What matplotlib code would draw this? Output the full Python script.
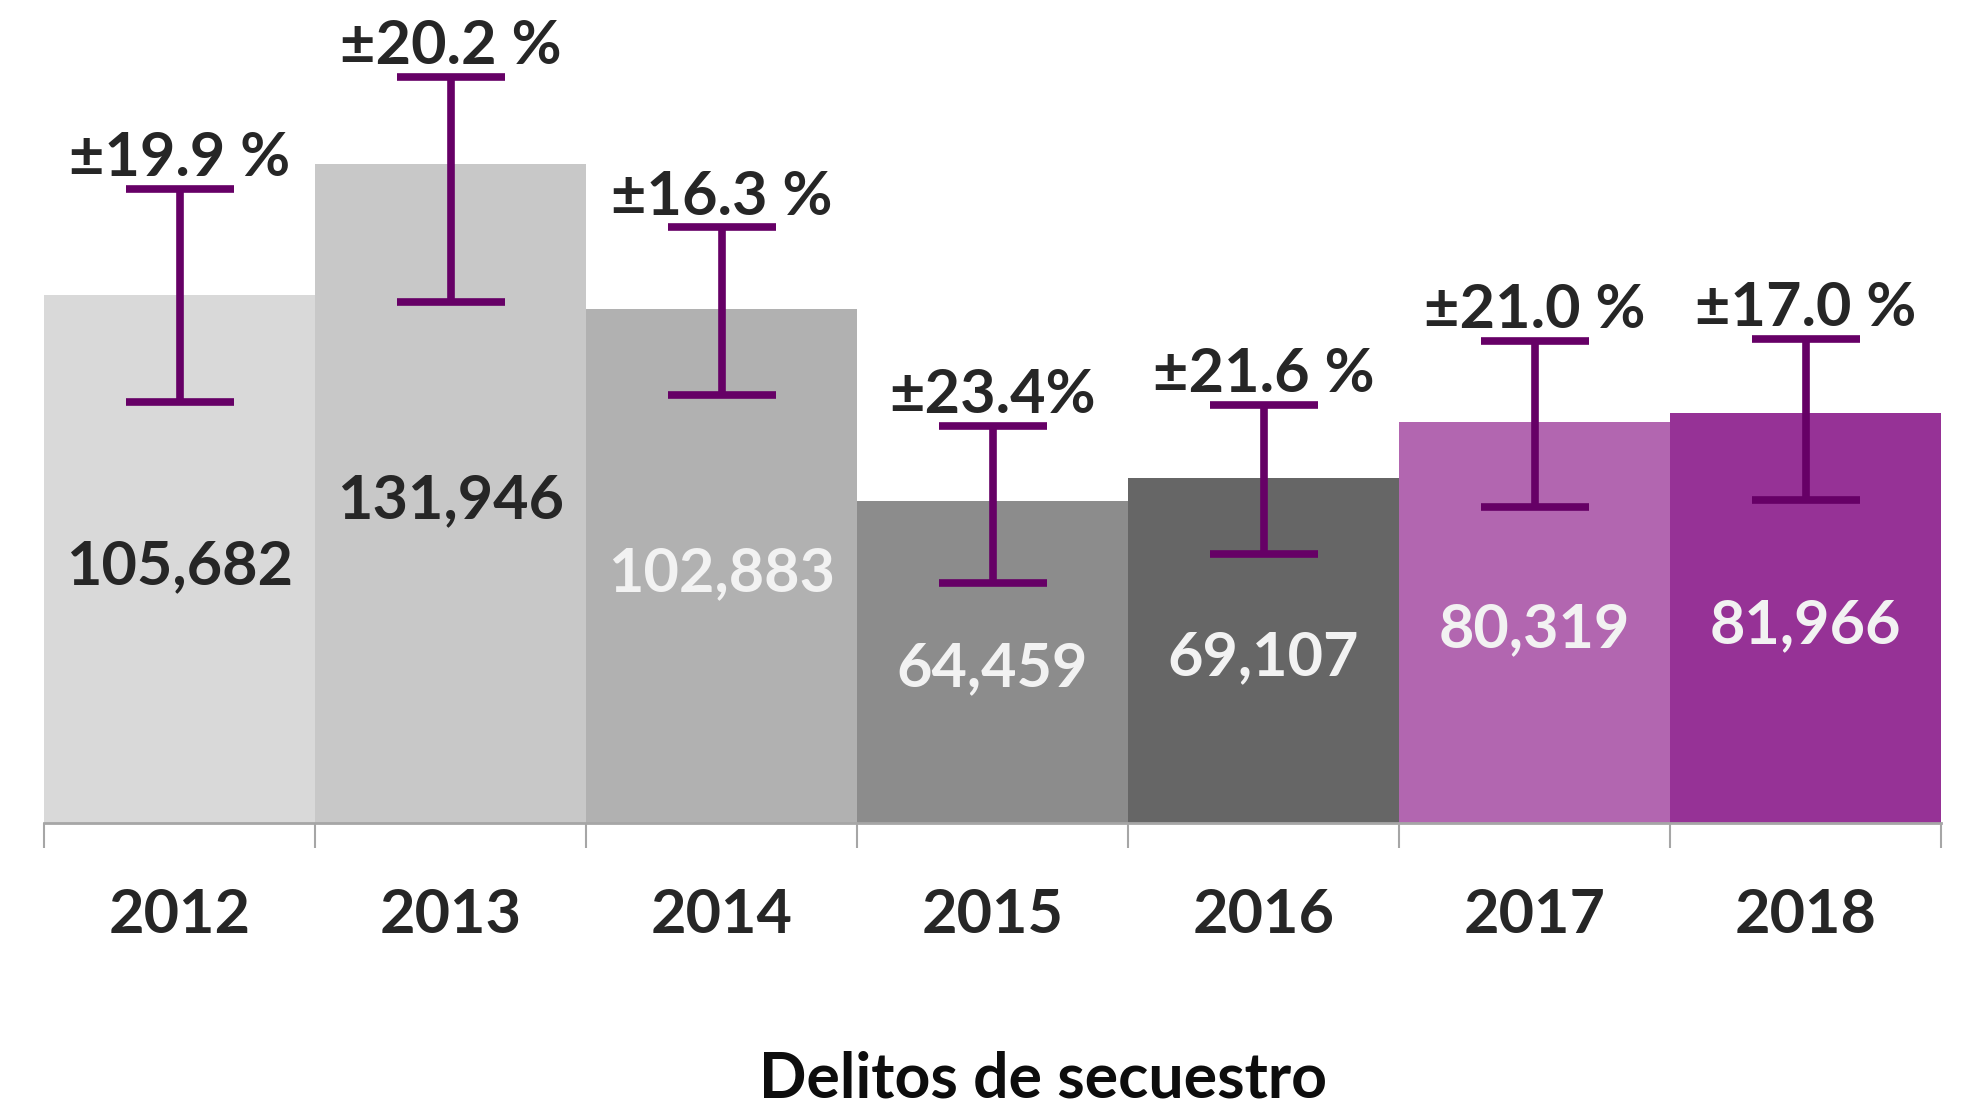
import matplotlib.pyplot as plt

plt.rcParams['font.family'] = ['Lato', 'DejaVu Sans']

# datos
anios = ['2012', '2013', '2014', '2015', '2016', '2017', '2018']
delitos = [105682, 131946, 102883, 64459, 69107, 80319, 81966]
error_sup = [127000, 149400, 119300, 79500, 83700, 96500, 96900]   # extremo superior
error_inf = [84300, 104300, 85700, 48000, 53800, 63200, 64600]     # extremo inferior
etiquetas_pct = ['±19.9 %', '±20.2 %', '±16.3 %', '±23.4%', '±21.6 %', '±21.0 %', '±17.0 %']

colores = ['#D9D9D9', '#C8C8C8', '#B1B1B1', '#8C8C8C', '#666666', '#B266B0', '#963296']
color_valor = ['#262626', '#262626', '#F2F2F2', '#F2F2F2', '#F2F2F2', '#F2F2F2', '#F2F2F2']
morado = '#660066'

fig = plt.figure(figsize=(19.64, 11.05), dpi=100)
ax = fig.add_axes([44/1964, 1 - 822.5/1105, (1941 - 44)/1964, 822.5/1105])

x = list(range(len(anios)))
ax.bar(x, delitos, width=1.0, color=colores, zorder=1)

centro = [(s + i) / 2 for s, i in zip(error_sup, error_inf)]
semi = [(s - i) / 2 for s, i in zip(error_sup, error_inf)]
ax.errorbar(x, centro, yerr=semi, fmt='none', ecolor=morado,
            elinewidth=5.5, capsize=39, capthick=5.5, zorder=3)

for i in x:
    ax.annotate(f'{delitos[i]:,}', xy=(i, delitos[i] / 2), xytext=(0, -5),
                textcoords='offset points', ha='center', va='center',
                fontsize=44, fontweight='bold', color=color_valor[i], zorder=4)
    ax.annotate(etiquetas_pct[i], xy=(i, error_sup[i]), xytext=(0, 9),
                textcoords='offset points', ha='center', va='baseline',
                fontsize=44, fontweight='bold', color='#262626',
                annotation_clip=False)
    ax.annotate(anios[i], xy=(i, 0), xytext=(0, -79.5),
                textcoords='offset points', ha='center', va='baseline',
                fontsize=44, fontweight='bold', color='#262626',
                annotation_clip=False)

ax.set_xlim(-0.5, len(anios) - 0.5)
ax.set_ylim(0, 164830)
ax.set_xticks([i - 0.5 for i in range(len(anios) + 1)])
ax.set_xticklabels([])
ax.tick_params(axis='x', length=18, width=1.5, color='#A6A6A6', direction='out')
ax.set_yticks([])
for s in ['top', 'left', 'right']:
    ax.spines[s].set_visible(False)
ax.spines['bottom'].set_color('#A6A6A6')
ax.spines['bottom'].set_linewidth(2)

fig.text(1043/1964, 1 - 1097/1105, 'Delitos de secuestro', ha='center', va='baseline',
         fontsize=45, fontweight='bold', color='#0D0D0D')

fig.savefig('out.png', dpi=100)
